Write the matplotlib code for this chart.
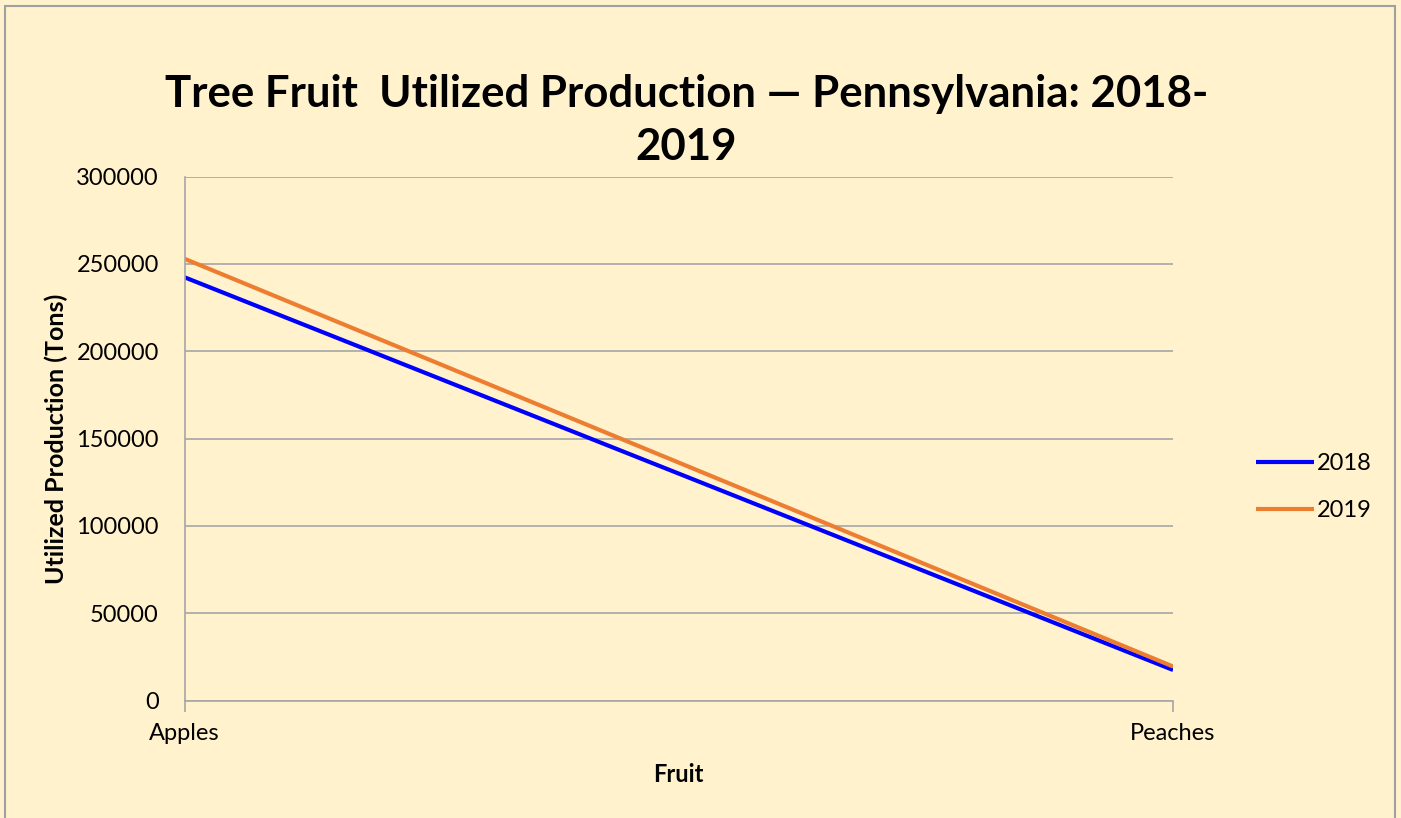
import matplotlib.pyplot as plt
from matplotlib.patches import Rectangle

fruits = ["Apples", "Peaches"]
prod_2018 = [242400, 17500]
prod_2019 = [253000, 19500]
yticks = [0, 50000, 100000, 150000, 200000, 250000, 300000]

bg = "#FFF2CC"
grid_col = "#A6A6A6"
plt.rcParams['font.family'] = ['Lato', 'DejaVu Sans']

fig = plt.figure(figsize=(14.01, 8.18), dpi=100, facecolor=bg)
ax = fig.add_axes([0.1317, 0.1436, 0.7056, 0.6404])
ax.set_facecolor(bg)

x = list(range(len(fruits)))
ax.plot(x, prod_2018, color="#0000FF", lw=3, label="2018", solid_capstyle="butt")
ax.plot(x, prod_2019, color="#ED7D31", lw=3, label="2019", solid_capstyle="butt")

ax.set_xlim(0, 1)
ax.set_ylim(0, 300000)
ax.set_yticks(yticks)
ax.set_yticklabels([str(v) for v in yticks])
ax.set_xticks(x)
ax.set_xticklabels(fruits)
ax.yaxis.grid(True, color=grid_col, lw=1.2)
ax.set_axisbelow(True)
for s in ["top", "right"]:
    ax.spines[s].set_visible(False)
for s in ["left", "bottom"]:
    ax.spines[s].set_color(grid_col)
    ax.spines[s].set_linewidth(1.2)
ax.tick_params(axis="y", length=0, pad=18.5, labelsize=17)
ax.tick_params(axis="x", length=8, width=1.2, color=grid_col, pad=8, labelsize=17)

ax.set_xlabel("Fruit", fontsize=17, fontweight="bold", labelpad=14)
ax.set_ylabel("Utilized Production (Tons)", fontsize=18, fontweight="bold", labelpad=6)

fig.text(0.49, 0.853, "Tree Fruit  Utilized Production — Pennsylvania: 2018-\n2019",
         ha="center", va="center", fontsize=31.5, fontweight="bold", linespacing=1.4)

ax.legend(loc="center left", bbox_to_anchor=(1.0627, 0.408), frameon=False, fontsize=17,
          handlelength=2.45, handletextpad=0.1, labelspacing=1.1)

fig.patches.append(Rectangle((0.0036, -0.01), 0.992, 1.0027, transform=fig.transFigure,
                             fill=False, edgecolor="#A0A0A0", lw=1.5))

fig.savefig("out.png", dpi=100, facecolor=bg)
